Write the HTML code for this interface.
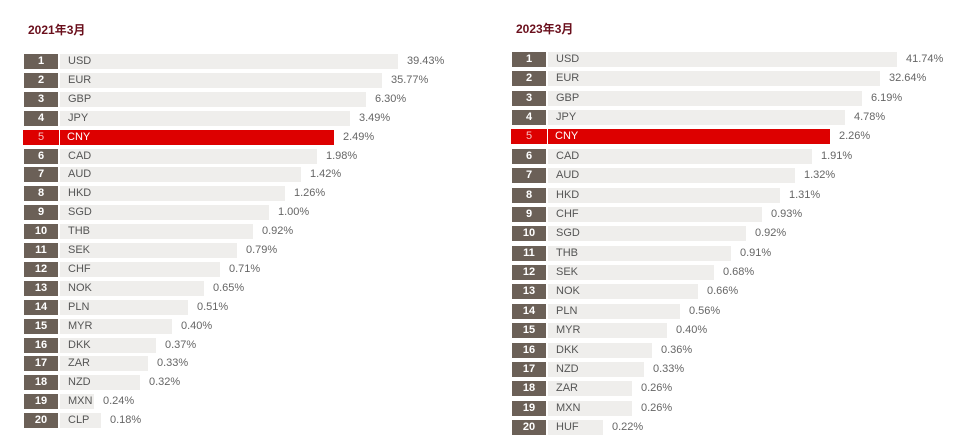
<!DOCTYPE html><html><head><meta charset="utf-8"><style>
body{margin:0;width:960px;height:448px;background:#fff;position:relative;overflow:hidden;font-family:"Liberation Sans","Noto Sans CJK SC",sans-serif}
.t{position:absolute;font-size:12px;font-weight:bold;color:#6a0f1c}
.r{position:absolute;height:15px}
.n{position:absolute;left:0;top:0;width:34px;height:15px;background:#6b6057;color:#fff;font-size:11px;font-weight:bold;text-align:center;line-height:15px}
.b{position:absolute;top:0;height:15px;background:#efeeec}
.c{position:absolute;top:0;font-size:11px;color:#555;line-height:15px}
.v{position:absolute;top:0;font-size:11px;color:#666;line-height:15px}
.red .n,.red .b{background:#dd0000}.red .c{color:#fff}.red .n{color:#f8c0c0;font-weight:normal;left:-1px;width:36px}
</style></head><body>
<div class="t" style="left:28px;top:21px">2021年3月</div>
<div class="t" style="left:516px;top:20px">2023年3月</div>
<div id="L"></div><div id="R"></div>
<script>
function mk(x0,y0,dy,data){let h='';data.forEach((d,i)=>{const y=Math.round(y0+i*dy);h+=`<div class="r${i==4?' red':''}" style="left:${x0}px;top:${y}px"><div class="n">${i+1}</div><div class="b" style="left:36px;width:${d[1]-x0-36}px"></div><div class="c" style="left:${i==4?43:44}px">${d[0]}</div><div class="v" style="left:${d[1]-x0+9}px">${d[2]}</div></div>`});return h}
document.getElementById('L').innerHTML=mk(24,54,18.9,[["USD",398,"39.43%"],["EUR",382,"35.77%"],["GBP",366,"6.30%"],["JPY",350,"3.49%"],["CNY",334,"2.49%"],["CAD",317,"1.98%"],["AUD",301,"1.42%"],["HKD",285,"1.26%"],["SGD",269,"1.00%"],["THB",253,"0.92%"],["SEK",237,"0.79%"],["CHF",220,"0.71%"],["NOK",204,"0.65%"],["PLN",188,"0.51%"],["MYR",172,"0.40%"],["DKK",156,"0.37%"],["ZAR",148,"0.33%"],["NZD",140,"0.32%"],["MXN",94,"0.24%"],["CLP",101,"0.18%"]]);
document.getElementById('R').innerHTML=mk(512,52,19.37,[["USD",897,"41.74%"],["EUR",880,"32.64%"],["GBP",862,"6.19%"],["JPY",845,"4.78%"],["CNY",830,"2.26%"],["CAD",812,"1.91%"],["AUD",795,"1.32%"],["HKD",780,"1.31%"],["CHF",762,"0.93%"],["SGD",746,"0.92%"],["THB",731,"0.91%"],["SEK",714,"0.68%"],["NOK",698,"0.66%"],["PLN",680,"0.56%"],["MYR",667,"0.40%"],["DKK",652,"0.36%"],["NZD",644,"0.33%"],["ZAR",632,"0.26%"],["MXN",632,"0.26%"],["HUF",603,"0.22%"]]);
</script></body></html>
